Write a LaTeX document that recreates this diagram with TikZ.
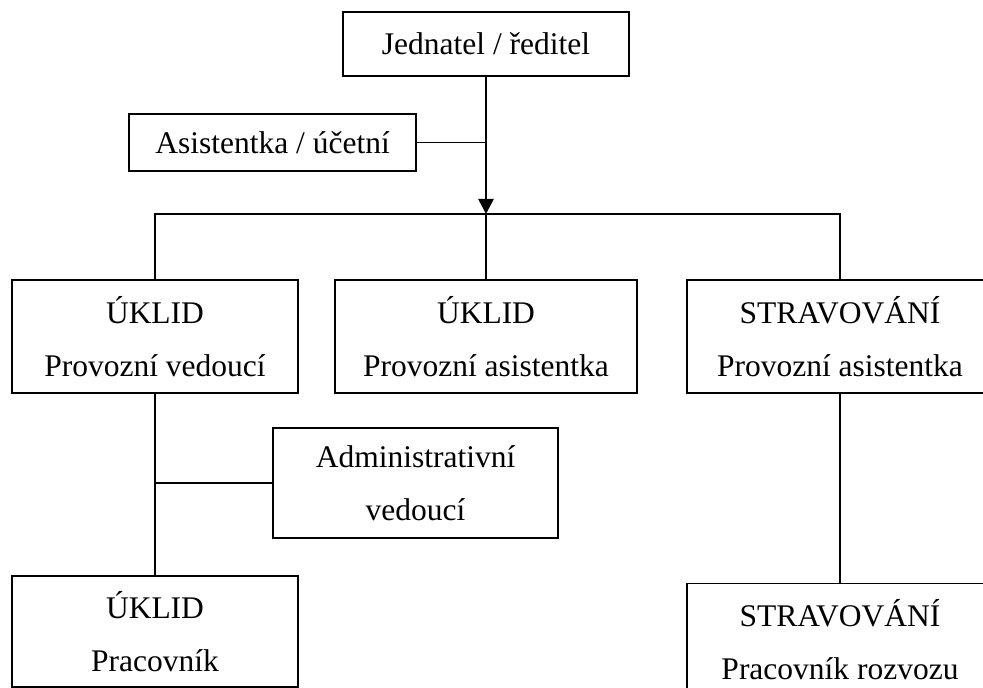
\documentclass[tikz,border=0pt]{standalone}
\usepackage{fontspec}
\setmainfont{Liberation Serif}
\usetikzlibrary{arrows.meta, positioning, calc}
\tikzset{
    % framed box for one post of the organisation chart
    post/.style={draw, line width=0.9pt, align=center, inner sep=0pt,
        font=\fontsize{15.75}{26.5}\selectfont},
    % plain connector between posts
    link/.style={line width=0.9pt},
    % the one directed connector below the director
    down/.style={-{Triangle[length=7.5pt, width=7.5pt]}, line width=1.3pt},
}

\begin{document}
\begin{tikzpicture}[x=0.5pt, y=-0.5pt]
    \useasboundingbox (0,0) rectangle (983,688);

    % ---- top of the chart ----
    \node[post, minimum width=143pt, minimum height=32pt] (ceo) at (486, 44)
        {Jednatel / ředitel};
    \node[post, minimum width=143.5pt, minimum height=28.5pt] (asst) at (272.5, 142.5)
        {Asistentka / účetní};
    \coordinate (bus) at (486, 214);

    % ---- second row ----
    \node[post, minimum width=143pt, minimum height=56.5pt] (uklidPV) at (155, 336.5)
        {ÚKLID\\Provozní vedoucí};
    \node[post, minimum width=151pt, minimum height=56.5pt] (uklidPA) at (486, 336.5)
        {ÚKLID\\Provozní asistentka};
    \node[post, minimum width=153pt, minimum height=56.5pt] (stravPA) at (840, 336.5)
        {STRAVOVÁNÍ\\Provozní asistentka};

    % ---- lower posts ----
    \node[post, minimum width=142.5pt, minimum height=55pt] (admin) at (415.5, 483)
        {Administrativní\\vedoucí};
    \node[post, minimum width=143pt, minimum height=55.5pt] (uklidP) at (155, 631.5)
        {ÚKLID\\Pracovník};
    \node[post, minimum width=153pt, minimum height=56.5pt] (stravPR) at (840, 640)
        {STRAVOVÁNÍ\\Pracovník rozvozu};

    % connectors
    \draw[down] (ceo) -- (bus);
    \draw[link] (asst.east) -- (asst.east -| ceo.south);
    \draw[link] (uklidPV.north) |- (bus) -| (stravPA.north);
    \draw[link] (bus) -- (uklidPA.north);
    \draw[link] (uklidPV.south) -- (uklidP.north);
    \draw[link] (admin.west) -- (admin.west -| uklidPV.south);
    \draw[link] (stravPA.south) -- (stravPR.north);

\end{tikzpicture}
\end{document}
